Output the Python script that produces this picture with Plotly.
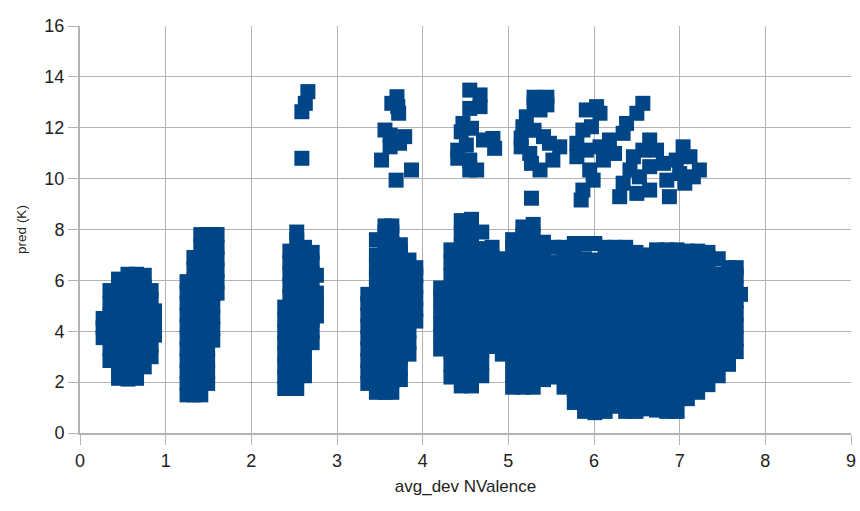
import plotly.graph_objects as go

# ---- data (marker centres, x = avg_dev NValence, y = pred (K)) ----
# Each dense cluster is given column by column: x value and the y values seen in that column.
cluster1_x = [0.27, 0.35, 0.45, 0.56, 0.66, 0.75, 0.83, 0.87]
cluster1_y = [
    [3.75, 4.15, 4.5],
    [2.85, 3.3, 3.75, 4.2, 4.65, 5.1, 5.6],
    [2.15, 2.6, 3.05, 3.5, 3.95, 4.4, 4.85, 5.3, 5.7, 6.05],
    [2.12, 2.57, 3.02, 3.47, 3.92, 4.37, 4.82, 5.27, 5.72, 6.24],
    [2.15, 2.6, 3.05, 3.5, 3.95, 4.4, 4.85, 5.3, 5.75, 6.24],
    [2.6, 3.05, 3.5, 3.95, 4.4, 4.85, 5.3, 5.75, 6.2],
    [3.0, 3.45, 3.9, 4.35, 4.8, 5.25, 5.6],
    [3.85, 4.3, 4.8],
]

cluster2_x = [1.25, 1.33, 1.41, 1.49, 1.55, 1.60]
cluster2_y = [
    [1.5, 1.95, 2.4, 2.85, 3.3, 3.75, 4.2, 4.65, 5.1, 5.55, 5.95],
    [1.5, 1.95, 2.4, 2.85, 3.3, 3.75, 4.2, 4.65, 5.1, 5.55, 6.0, 6.45, 6.9],
    [1.5, 1.95, 2.4, 2.85, 3.3, 3.75, 4.2, 4.65, 5.1, 5.55, 6.0, 6.45, 6.9, 7.35, 7.8],
    [1.95, 2.4, 2.85, 3.3, 3.75, 4.2, 4.65, 5.1, 5.55, 6.0, 6.45, 6.9, 7.35, 7.8],
    [3.65, 4.1, 4.55, 5.0, 5.45, 5.9, 6.35, 6.8, 7.25, 7.8],
    [5.5, 5.95, 6.4, 6.85, 7.3, 7.8],
]

cluster3_x = [2.39, 2.45, 2.53, 2.62, 2.71, 2.76]
cluster3_y = [
    [1.75, 2.2, 2.65, 3.1, 3.55, 4.0, 4.45, 4.95],
    [1.75, 2.2, 2.65, 3.1, 3.55, 4.0, 4.45, 4.9, 5.35, 5.8, 6.25, 6.7, 7.15],
    [1.75, 2.2, 2.65, 3.1, 3.55, 4.0, 4.45, 4.9, 5.35, 5.8, 6.25, 6.7, 7.15, 7.6, 7.9],
    [2.25, 2.7, 3.15, 3.6, 4.05, 4.5, 4.95, 5.4, 5.85, 6.3, 6.75, 7.3],
    [3.55, 4.0, 4.45, 4.9, 5.35, 5.8, 6.25, 6.7, 7.1],
    [4.6, 5.05, 5.5, 6.2],
]

cluster4_x = [3.36, 3.46, 3.56, 3.64, 3.74, 3.84, 3.92]
cluster4_y = [
    [1.95, 2.4, 2.85, 3.3, 3.75, 4.2, 4.65, 5.1, 5.45],
    [1.6, 2.05, 2.5, 2.95, 3.4, 3.85, 4.3, 4.75, 5.2, 5.65, 6.1, 6.55, 7.0, 7.6],
    [1.6, 2.05, 2.5, 2.95, 3.4, 3.85, 4.3, 4.75, 5.2, 5.65, 6.1, 6.55, 7.0, 7.45, 7.9, 8.14],
    [1.6, 2.05, 2.5, 2.95, 3.4, 3.85, 4.3, 4.75, 5.2, 5.65, 6.1, 6.55, 7.0, 7.45, 7.9, 8.14],
    [2.1, 2.55, 3.0, 3.45, 3.9, 4.35, 4.8, 5.25, 5.7, 6.15, 6.6, 7.05, 7.4],
    [3.1, 3.55, 4.0, 4.45, 4.9, 5.35, 5.8, 6.25, 6.8],
    [4.4, 4.85, 5.3, 5.75, 6.2, 6.5],
]

cluster5_x = [4.21, 4.33, 4.45, 4.57, 4.69, 4.81, 4.93, 5.05, 5.17, 5.29, 5.41, 5.53,
              5.65, 5.77, 5.89, 6.01, 6.13, 6.25, 6.37, 6.49, 6.61, 6.73, 6.85, 6.97,
              7.09, 7.21, 7.33, 7.45, 7.57, 7.66, 7.71]
cluster5_y = [
    [3.3, 3.8, 4.3, 4.8, 5.3, 5.7],
    [2.2, 2.7, 3.2, 3.7, 4.2, 4.7, 5.2, 5.7, 6.2, 6.7, 7.2],
    [1.85, 2.35, 2.85, 3.35, 3.85, 4.35, 4.85, 5.35, 5.85, 6.35, 6.85, 7.35, 7.85, 8.35],
    [1.85, 2.35, 2.85, 3.35, 3.85, 4.35, 4.85, 5.35, 5.85, 6.35, 6.85, 7.35, 7.85, 8.4],
    [2.25, 2.75, 3.25, 3.75, 4.25, 4.75, 5.25, 5.75, 6.25, 6.75, 7.25, 7.9],
    [3.4, 3.9, 4.4, 4.9, 5.4, 5.9, 6.4, 6.9, 7.3],
    [3.1, 3.6, 4.1, 4.6, 5.1, 5.6, 6.1, 6.6, 6.85],
    [1.8, 2.3, 2.8, 3.3, 3.8, 4.3, 4.8, 5.3, 5.8, 6.3, 6.8, 7.3, 7.6],
    [1.8, 2.3, 2.8, 3.3, 3.8, 4.3, 4.8, 5.3, 5.8, 6.3, 6.8, 7.3, 7.8, 8.1],
    [1.8, 2.3, 2.8, 3.3, 3.8, 4.3, 4.8, 5.3, 5.8, 6.3, 6.8, 7.3, 7.8, 8.2],
    [2.1, 2.6, 3.1, 3.6, 4.1, 4.6, 5.1, 5.6, 6.1, 6.6, 7.1, 7.5],
    [2.2, 2.7, 3.2, 3.7, 4.2, 4.7, 5.2, 5.7, 6.2, 6.7, 7.3],
    [1.8, 2.3, 2.8, 3.3, 3.8, 4.3, 4.8, 5.3, 5.8, 6.3, 6.8, 7.3],
    [1.2, 1.7, 2.2, 2.7, 3.2, 3.7, 4.2, 4.7, 5.2, 5.7, 6.2, 6.7, 7.2, 7.45],
    [0.85, 1.35, 1.85, 2.35, 2.85, 3.35, 3.85, 4.35, 4.85, 5.35, 5.85, 6.35, 6.85, 7.45],
    [0.8, 1.3, 1.8, 2.3, 2.8, 3.3, 3.8, 4.3, 4.8, 5.3, 5.8, 6.3, 6.8, 7.45],
    [0.85, 1.35, 1.85, 2.35, 2.85, 3.35, 3.85, 4.35, 4.85, 5.35, 5.85, 6.35, 6.85, 7.3],
    [1.05, 1.55, 2.05, 2.55, 3.05, 3.55, 4.05, 4.55, 5.05, 5.55, 6.05, 6.55, 7.05, 7.3],
    [0.85, 1.35, 1.85, 2.35, 2.85, 3.35, 3.85, 4.35, 4.85, 5.35, 5.85, 6.35, 6.85, 7.3],
    [0.85, 1.35, 1.85, 2.35, 2.85, 3.35, 3.85, 4.35, 4.85, 5.35, 5.85, 6.35, 6.85, 7.1],
    [0.95, 1.45, 1.95, 2.45, 2.95, 3.45, 3.95, 4.45, 4.95, 5.45, 5.95, 6.45, 7.0],
    [0.9, 1.4, 1.9, 2.4, 2.9, 3.4, 3.9, 4.4, 4.9, 5.4, 5.9, 6.4, 6.9, 7.2],
    [0.85, 1.35, 1.85, 2.35, 2.85, 3.35, 3.85, 4.35, 4.85, 5.35, 5.85, 6.35, 6.85, 7.2],
    [0.85, 1.35, 1.85, 2.35, 2.85, 3.35, 3.85, 4.35, 4.85, 5.35, 5.85, 6.35, 6.85, 7.2],
    [1.35, 1.85, 2.35, 2.85, 3.35, 3.85, 4.35, 4.85, 5.35, 5.85, 6.35, 6.85, 7.15],
    [1.6, 2.1, 2.6, 3.1, 3.6, 4.1, 4.6, 5.1, 5.6, 6.1, 6.6, 7.15],
    [1.9, 2.4, 2.9, 3.4, 3.9, 4.4, 4.9, 5.4, 5.9, 6.4, 6.9, 7.1],
    [2.25, 2.75, 3.25, 3.75, 4.25, 4.75, 5.25, 5.75, 6.25, 6.85],
    [2.7, 3.2, 3.7, 4.2, 4.7, 5.2, 5.7, 6.2, 6.5],
    [3.2, 3.7, 4.2, 4.7, 5.2, 5.7, 6.2, 6.5],
    [5.45],
]

# sparse high-prediction points
upper_x = [2.66, 2.63, 2.59, 2.59,
           3.70, 3.71, 3.64, 3.72, 3.56, 3.62, 3.79, 3.73, 3.62, 3.52, 3.87, 3.69,
           4.55, 4.67, 4.67, 4.55, 4.47, 4.45, 4.57, 4.82, 4.71, 4.84, 4.41, 4.51, 4.41, 4.55, 4.55, 4.63,
           5.27,
           5.30, 5.45, 5.30, 5.45, 5.37, 5.21, 5.17, 5.15, 5.15, 5.25, 5.27, 5.37, 5.48, 5.60, 5.41, 5.52, 5.30,
           6.03, 5.91, 6.07, 5.87, 5.97, 5.80, 5.80, 5.91, 6.07, 6.18, 6.24, 6.11, 5.95, 5.99, 5.87, 5.85,
           6.34, 6.38, 6.50, 6.57,
           6.65, 6.57, 6.73, 6.46, 6.42, 6.34, 6.30, 6.53, 6.65, 6.81, 6.85, 6.65, 6.50, 6.88,
           7.04, 7.12, 6.96, 7.23, 7.16, 7.06, 7.00]
upper_y = [13.42, 12.96, 12.63, 10.8,
           13.22, 12.83, 12.96, 12.57, 11.91, 11.71, 11.65, 11.39, 11.25, 10.73, 10.34, 9.94,
           13.48, 13.29, 12.83, 12.76, 12.17, 11.84, 11.98, 11.58, 11.52, 11.19, 11.12, 11.32, 10.8, 10.73, 10.34, 10.34,
           9.23,
           13.2, 13.2, 12.9, 12.9, 12.7, 12.43, 12.04, 11.6, 11.25, 10.99, 10.6, 10.34, 11.39, 11.25, 11.65, 10.73, 11.9,
           12.83, 12.7, 12.57, 11.91, 12.04, 11.39, 10.86, 11.12, 11.25, 11.52, 10.99, 10.73, 10.34, 9.94, 9.55, 9.16,
           11.78, 12.17, 12.57, 12.96,
           11.52, 11.12, 11.12, 10.86, 10.34, 9.82, 9.29, 10.07, 10.47, 10.6, 9.94, 9.55, 9.42, 9.29,
           11.25, 10.86, 10.73, 10.34, 10.07, 9.82, 10.2]

x_ticks = [0, 1, 2, 3, 4, 5, 6, 7, 8, 9]
y_ticks = [0, 2, 4, 6, 8, 10, 12, 14, 16]


def flatten(cols_x, cols_y):
    xs, ys = [], []
    for cx, cy in zip(cols_x, cols_y):
        for v in cy:
            xs.append(cx)
            ys.append(v)
    return xs, ys


all_x, all_y = [], []
for cx, cy in [(cluster1_x, cluster1_y), (cluster2_x, cluster2_y), (cluster3_x, cluster3_y),
               (cluster4_x, cluster4_y), (cluster5_x, cluster5_y)]:
    fx, fy = flatten(cx, cy)
    all_x += fx
    all_y += fy
all_x += upper_x
all_y += upper_y

COLOR = "#004586"
GRID = "#b3b3b3"

fig = go.Figure()
fig.add_trace(go.Scatter(
    x=all_x, y=all_y, mode="markers",
    marker=dict(symbol="square", size=15, color=COLOR, line=dict(width=0)),
    showlegend=False, hoverinfo="x+y",
))

axis_common = dict(
    showgrid=True, gridcolor=GRID, gridwidth=1,
    showline=True, linecolor=GRID, linewidth=2,
    ticks="outside", ticklen=10, tickcolor=GRID, tickwidth=1,
    zeroline=False, automargin=False, ticklabeloverflow="allow",
    tickfont=dict(size=18, color="#222222"),
)

fig.update_layout(
    width=860, height=511,
    margin=dict(l=80, r=9, t=26, b=78),
    plot_bgcolor="white", paper_bgcolor="white",
    font=dict(family="Liberation Sans, Arial, sans-serif", color="#222222"),
    xaxis=dict(range=[0, 9], tickvals=x_ticks,
               title=dict(text="avg_dev NValence", font=dict(size=17), standoff=11),
               **axis_common),
    yaxis=dict(range=[0, 16], tickvals=y_ticks,
               title=dict(text="pred (K)", font=dict(size=13.5), standoff=15),
               **axis_common),
)

# remove the default 8px page margin so the 860x511 figure fills the window exactly
fig.write_html("out.html",
               config={"displayModeBar": False},
               post_script="document.body.style.margin='0';document.body.style.overflow='hidden';")
